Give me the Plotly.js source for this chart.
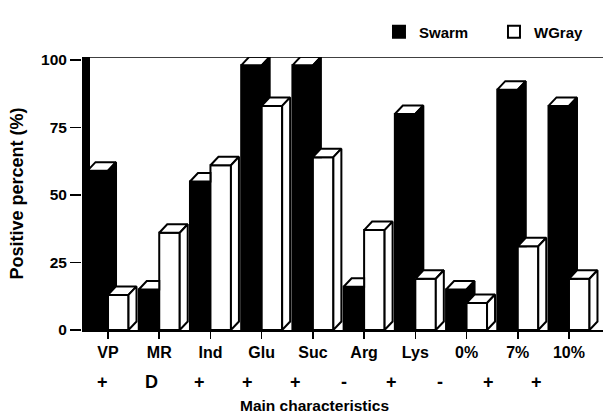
<!DOCTYPE html>
<html><head><meta charset="utf-8">
<script src="https://cdn.plot.ly/plotly-3.0.1.min.js"></script>
<style>html,body{margin:0;padding:0;background:#fff}#chart{width:603px;height:416px}</style>
</head><body><div id="chart"></div>
<script>
const categories = ['VP','MR','Ind','Glu','Suc','Arg','Lys','0%','7%','10%'];
const signs = ['+','D','+','+','+','-','+','-','+','+'];
const swarm = [59,15,55,98,98,16,80,15,89,83];
const wgray = [13,36,61,83,64,37,19,10,31,19];
const yTicks = [0,25,50,75,100];

const W=603, H=416, mL=82, mR=0, mT=57, mB=86;
const xRange=[-0.508, 9.664], yRange=[0,101.1];
const pxX = (W-mL-mR)/(xRange[1]-xRange[0]);
const pxY = (H-mT-mB)/(yRange[1]-yRange[0]);
const dx = 8/pxX, dy = 8.5/pxY;
const bw = 0.4;
const idx = categories.map((_,i)=>i);
const FONT = 'Liberation Sans, Arial, Helvetica, sans-serif';

function polys(list){
  const xs=[], ys=[];
  list.forEach(p=>{
    p.forEach(q=>{xs.push(q[0]); ys.push(q[1]);});
    xs.push(p[0][0]); ys.push(p[0][1]);
    xs.push(null); ys.push(null);
  });
  return {xs, ys};
}
const bTop=[], bSide=[], wTop=[], wSide=[];
idx.forEach(c=>{
  const b=swarm[c], w=wgray[c];
  if (w > b) bTop.push([[c-bw,b],[c,b],[c,b+dy],[c-bw+dx,b+dy]]);
  else bTop.push([[c-bw,b],[c,b],[c+dx,b+dy],[c-bw+dx,b+dy]]);
  if (w < b) bSide.push([[c,w],[c+dx,Math.max(w,dy)],[c+dx,b+dy],[c,b]]);
  wTop.push([[c,w],[c+bw,w],[c+bw+dx,w+dy],[c+dx,w+dy]]);
  wSide.push([[c+bw,0],[c+bw+dx,dy],[c+bw+dx,w+dy],[c+bw,w]]);
});
function polyTrace(list, fill){
  const p = polys(list);
  return {type:'scatter', mode:'lines', x:p.xs, y:p.ys, fill:'toself', fillcolor:fill,
    line:{color:'#000', width:2}, showlegend:false, hoverinfo:'skip', connectgaps:false, cliponaxis:false};
}

const data = [
  {type:'bar', name:'Swarm', x:idx.map(i=>i-bw/2), y:swarm, width:bw,
   marker:{color:'#000', line:{color:'#000', width:2}}, hoverinfo:'skip'},
  {type:'bar', name:'WGray', x:idx.map(i=>i+bw/2), y:wgray, width:bw,
   marker:{color:'#fff', line:{color:'#000', width:2}}, hoverinfo:'skip'},
  polyTrace(bTop, '#fff'),
  polyTrace(bSide, '#000'),
  polyTrace(wTop, '#fff'),
  polyTrace(wSide, '#fff')
];

const annotations = signs.map((s,i)=>({
  x: i*0.94 - 0.1, xref:'x', y: (H-mB-382)/(H-mT-mB), yref:'paper',
  text: s, showarrow:false, xanchor:'center', yanchor:'middle',
  font:{family:FONT, size:18, color:'#000', weight:'bold'}
}));
annotations.push({
  x:(314-mL)/(W-mL-mR), xref:'paper', y:(H-mB-405)/(H-mT-mB), yref:'paper',
  text:'Main characteristics', showarrow:false, xanchor:'center', yanchor:'middle',
  font:{family:FONT, size:15.5, color:'#000', weight:'bold'}
});

const layout = {
  width:W, height:H,
  margin:{l:mL, r:mR, t:mT, b:mB, autoexpand:false},
  paper_bgcolor:'#fff', plot_bgcolor:'#fff',
  barmode:'overlay',
  font:{family:FONT, size:15, color:'#000', weight:'bold'},
  xaxis:{range:xRange, tickvals:idx, ticktext:categories, ticks:'outside', ticklen:7, tickwidth:1.5,
    tickcolor:'#000', showline:true, linecolor:'#000', linewidth:1.5, showgrid:false, zeroline:false,
    tickfont:{family:FONT, size:16, weight:'bold'}},
  yaxis:{range:yRange, tickvals:yTicks, ticks:'outside', ticklen:11, tickwidth:1.5, tickcolor:'#000',
    showline:false, showgrid:false, zeroline:false,
    tickfont:{family:FONT, size:15.5, weight:'bold'},
    title:{text:'Positive percent (%)', standoff:12, font:{family:FONT, size:18, weight:'bold'}}},
  legend:{orientation:'h', x:0.57, xanchor:'left', y:(H-mB-32)/(H-mT-mB), yanchor:'middle',
    entrywidth:70, bgcolor:'rgba(0,0,0,0)', font:{family:FONT, size:15, weight:'bold'}, traceorder:'normal'},
  shapes:[
    {type:'rect', xref:'x', yref:'y', x0:xRange[0], x1:xRange[0]+dx, y0:0, y1:yRange[1],
     fillcolor:'#000', line:{width:0}, layer:'above'},
    {type:'line', xref:'x', yref:'y', x0:xRange[0]+dx, x1:xRange[1], y0:yRange[1], y1:yRange[1],
     line:{color:'#000', width:1.5}}
  ],
  annotations: annotations,
  showlegend:true
};
Plotly.newPlot('chart', data, layout, {displayModeBar:false, staticPlot:true});
</script>
</body></html>
